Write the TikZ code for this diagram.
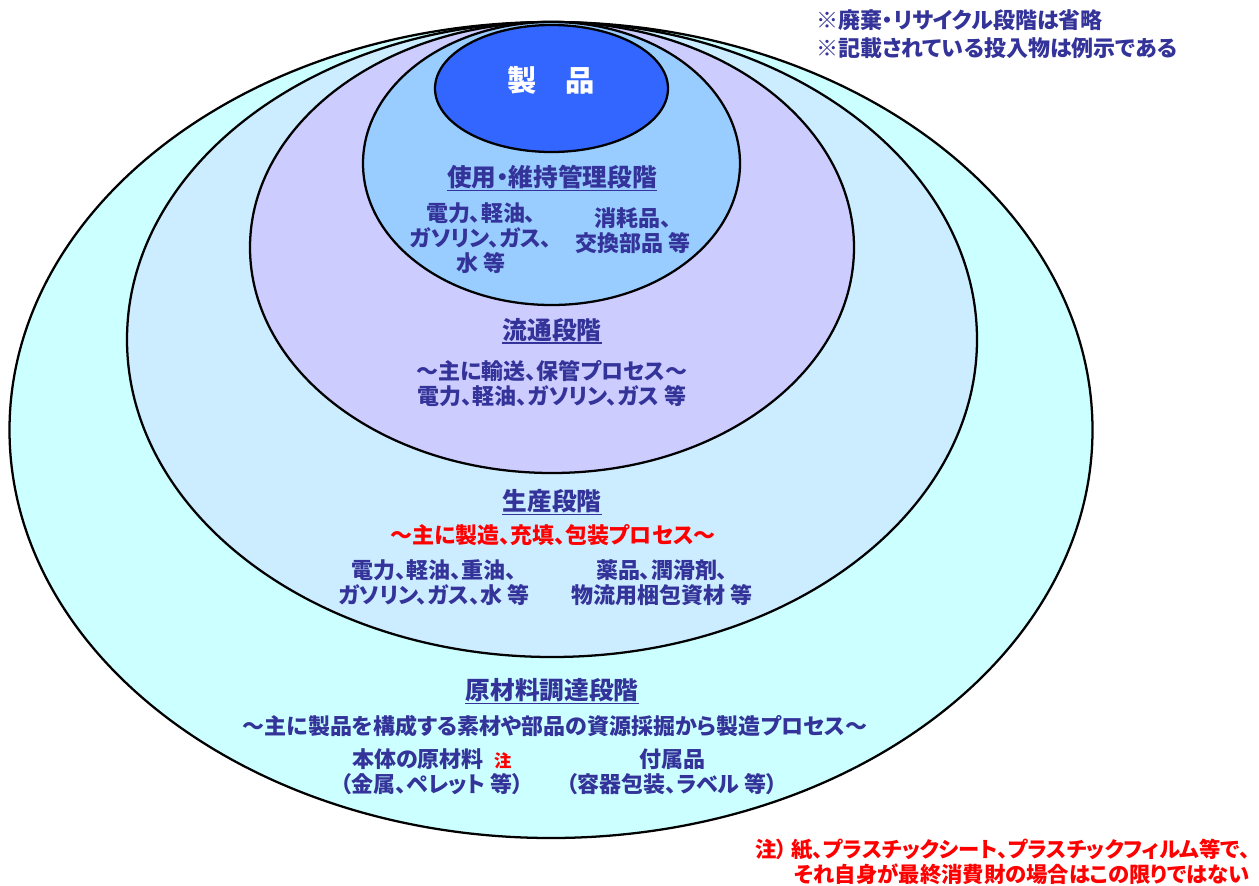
\documentclass[tikz,border=0pt]{standalone}
\usepackage{fontspec}
\setmainfont{Noto Sans CJK JP}[RawFeature=+palt]
\usepackage{xcolor}
\usetikzlibrary{positioning}
\definecolor{navytext}{HTML}{333399}
\definecolor{rawfill}{HTML}{CCFFFF}
\definecolor{prodfill}{HTML}{CCECFF}
\definecolor{distfill}{HTML}{CCCCFF}
\definecolor{usefill}{HTML}{99CCFF}
\definecolor{itemfill}{HTML}{3366FF}
\tikzset{
  stage/.style={draw=black, line width=1.7pt},
  stagetitle/.style={navytext, inner sep=0pt, font=\fontsize{18.5}{22}\selectfont\bfseries},
  titleline/.style={navytext, line width=1.3pt},
  stagebody/.style={navytext, inner sep=0pt, align=center, font=\fontsize{16.5}{18.75}\selectfont\bfseries},
  rednote/.style={red, inner sep=0pt, font=\fontsize{16}{18}\selectfont\bfseries}
}

\begin{document}
\begin{tikzpicture}[x=0.75pt,y=-0.75pt]
\useasboundingbox (0,0) rectangle (1259,885);

% stages, outer to inner
\draw[stage, fill=rawfill] (551,430) ellipse [x radius=541.5, y radius=408];
\draw[stage, fill=prodfill] (552,339.5) ellipse [x radius=425, y radius=317.5];
\draw[stage, fill=distfill] (552,247.5) ellipse [x radius=302, y radius=225.5];
\draw[stage, fill=usefill] (551.5,163.5) ellipse [x radius=188.5, y radius=141.5];
\draw[stage, fill=itemfill] (551.5,88.5) ellipse [x radius=116.5, y radius=63.5];

\node[white, inner sep=0pt, font=\fontsize{22}{24}\selectfont\bfseries] (item) at (551,80) {製　品};

% use
\node[stagetitle] (usetitle) at (552,177) {使用・維持管理段階};
\draw[titleline] ([yshift=-1pt]usetitle.south west) -- ([yshift=-1pt]usetitle.south east);
\node[stagebody] (useleft) at (481,238) {電力、軽油、\\ガソリン、ガス、\\水 等};
\node[stagebody] (useright) at (633,231) {消耗品、\\交換部品 等};

% distribution
\node[stagetitle] (disttitle) at (552,330) {流通段階};
\draw[titleline] ([yshift=-1pt]disttitle.south west) -- ([yshift=-1pt]disttitle.south east);
\node[stagebody] (distbody) at (552,384) {～主に輸送、保管プロセス～\\電力、軽油、ガソリン、ガス 等};

% production
\node[stagetitle] (prodtitle) at (552,501) {生産段階};
\draw[titleline] ([yshift=-1pt]prodtitle.south west) -- ([yshift=-1pt]prodtitle.south east);
\node[stagebody, red] (prodsub) at (553,535) {～主に製造、充填、包装プロセス～};
\node[stagebody] (prodleft) at (434,583) {電力、軽油、重油、\\ガソリン、ガス、水 等};
\node[stagebody] (prodright) at (662,583) {薬品、潤滑剤、\\物流用梱包資材 等};

% raw materials
\node[stagetitle] (rawtitle) at (552,690) {原材料調達段階};
\draw[titleline] ([yshift=-1pt]rawtitle.south west) -- ([yshift=-1pt]rawtitle.south east);
\node[stagebody] (rawsub) at (555,726) {～主に製品を構成する素材や部品の資源採掘から製造プロセス～};
\node[stagebody] (rawleft) at (432,772) {本体の原材料\hspace{8pt}{\color{red}\fontsize{13}{14}\selectfont 注}\\（金属、ペレット 等）};
\node[stagebody] (rawright) at (672,772) {付属品\\（容器包装、ラベル 等）};

% notes
\node[stagebody, anchor=west] (omitnote) at (816,20) {※廃棄・リサイクル段階は省略};
\node[stagebody, anchor=west] (examplenote) at (816,48) {※記載されている投入物は例示である};
\node[rednote, anchor=east] (footnote1) at (1250,850) {注）\hspace{3pt}紙、プラスチックシート、プラスチックフィルム等で、};
\node[rednote, anchor=east] (footnote2) at (1250,874) {それ自身が最終消費財の場合はこの限りではない};
\end{tikzpicture}
\end{document}
